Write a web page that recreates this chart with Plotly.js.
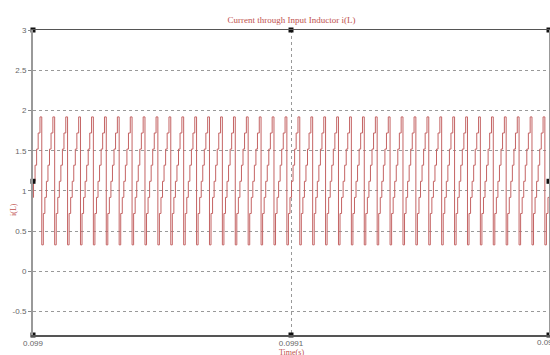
<!DOCTYPE html>
<html>
<head>
<meta charset="utf-8">
<script src="https://cdn.plot.ly/plotly-3.0.1.min.js"></script>
<style>html,body{margin:0;padding:0;background:#fff;overflow:hidden;}#chart{width:550px;height:355px;}</style>
</head>
<body>
<div id="chart"></div>
<script>
// ---- data ----
// one switching cycle of i(L): step times (µs after the drop) and levels (A)
const cycleStepTimesUs = [0, 0.6, 1.2, 1.8, 2.4, 3.0, 3.6, 4.3];
const cycleStepValues  = [0.33, 0.72, 0.92, 1.12, 1.32, 1.52, 1.72, 1.92];
const cyclePeriodUs = 5.0;           // 40 cycles across 0.099 .. 0.0992 s
const firstDropTime = 0.0990034;     // first visible drop (s)
const cycleCount = 42;
const xTickVals = [0.099, 0.0991, 0.0992];
const xTickText = ['0.099', '0.0991', '0.0992'];
const yTickVals = [-0.5, 0, 0.5, 1, 1.5, 2, 2.5, 3];
const yTickText = ['-0.5', '0', '0.5', '1', '1.5', '2', '2.5', '3'];
const probeX = [0.099, 0.0991, 0.0992, 0.099, 0.0991, 0.0992, 0.099, 0.0992];
const probeY = [3, 3, 3, -0.79, -0.79, -0.79, 1.12, 1.12];

// build the repeated staircase waveform from the read cycle
const t = [], iL = [];
for (let k = -1; k < cycleCount; k++) {
  const t0 = firstDropTime + k * cyclePeriodUs * 1e-6;
  for (let j = 0; j < cycleStepTimesUs.length; j++) {
    t.push(t0 + cycleStepTimesUs[j] * 1e-6);
    iL.push(cycleStepValues[j]);
  }
}

const red = '#c0504d';
const tickFont = {family: 'Liberation Sans, Arial', size: 8, color: '#666'};
const traces = [
  {x: t, y: iL, type: 'scatter', mode: 'lines',
   line: {color: 'rgb(196,100,100)', width: 1, shape: 'hv'}, hoverinfo: 'skip'},
  {x: probeX, y: probeY, type: 'scatter', mode: 'markers', cliponaxis: false,
   marker: {symbol: 'square', size: 5, color: '#111'}, hoverinfo: 'skip'}
];

const layout = {
  width: 550, height: 355,
  paper_bgcolor: '#fff', plot_bgcolor: '#fff',
  showlegend: false,
  margin: {l: 33, r: 1, t: 30, b: 20},
  title: {text: 'Current through Input Inductor i(L)',
          font: {family: 'Liberation Serif, serif', size: 9, color: red},
          x: 0.53, xanchor: 'center', y: 0.945, yanchor: 'middle'},
  xaxis: {range: [0.099, 0.0992], tickvals: xTickVals, ticktext: xTickText,
          tickfont: tickFont,
          ticks: '', showgrid: true, gridcolor: '#999', griddash: 'dot', gridwidth: 1,
          showline: true, mirror: true, linecolor: '#555', linewidth: 1.5,
          zeroline: false, automargin: false},
  yaxis: {range: [-0.79, 3], tickvals: yTickVals, ticktext: yTickText,
          tickfont: tickFont,
          ticks: 'outside', ticklen: 3, tickcolor: '#888',
          showgrid: true, gridcolor: '#999', griddash: 'dot', gridwidth: 1,
          showline: true, mirror: true, linecolor: '#999', linewidth: 2,
          zeroline: false, automargin: false},
  annotations: [
    {text: xTickText[2], x: xTickVals[2], xref: 'x', xanchor: 'center',
     y: 0, yref: 'paper', yanchor: 'top', yshift: -1, showarrow: false, font: tickFont},
    {text: 'Time(s)', x: 0.5, xref: 'paper', xanchor: 'center',
     y: 0, yref: 'paper', yanchor: 'top', yshift: -11, showarrow: false,
     font: {family: 'Liberation Serif, serif', size: 8, color: red}},
    {text: 'i(L)', x: 0, xref: 'paper', xanchor: 'center', xshift: -19,
     y: 0.41, yref: 'paper', yanchor: 'middle', textangle: -90, showarrow: false,
     font: {family: 'Liberation Serif, serif', size: 8, color: red}}
  ]
};

Plotly.newPlot('chart', traces, layout, {staticPlot: true, displayModeBar: false});
</script>
</body>
</html>
